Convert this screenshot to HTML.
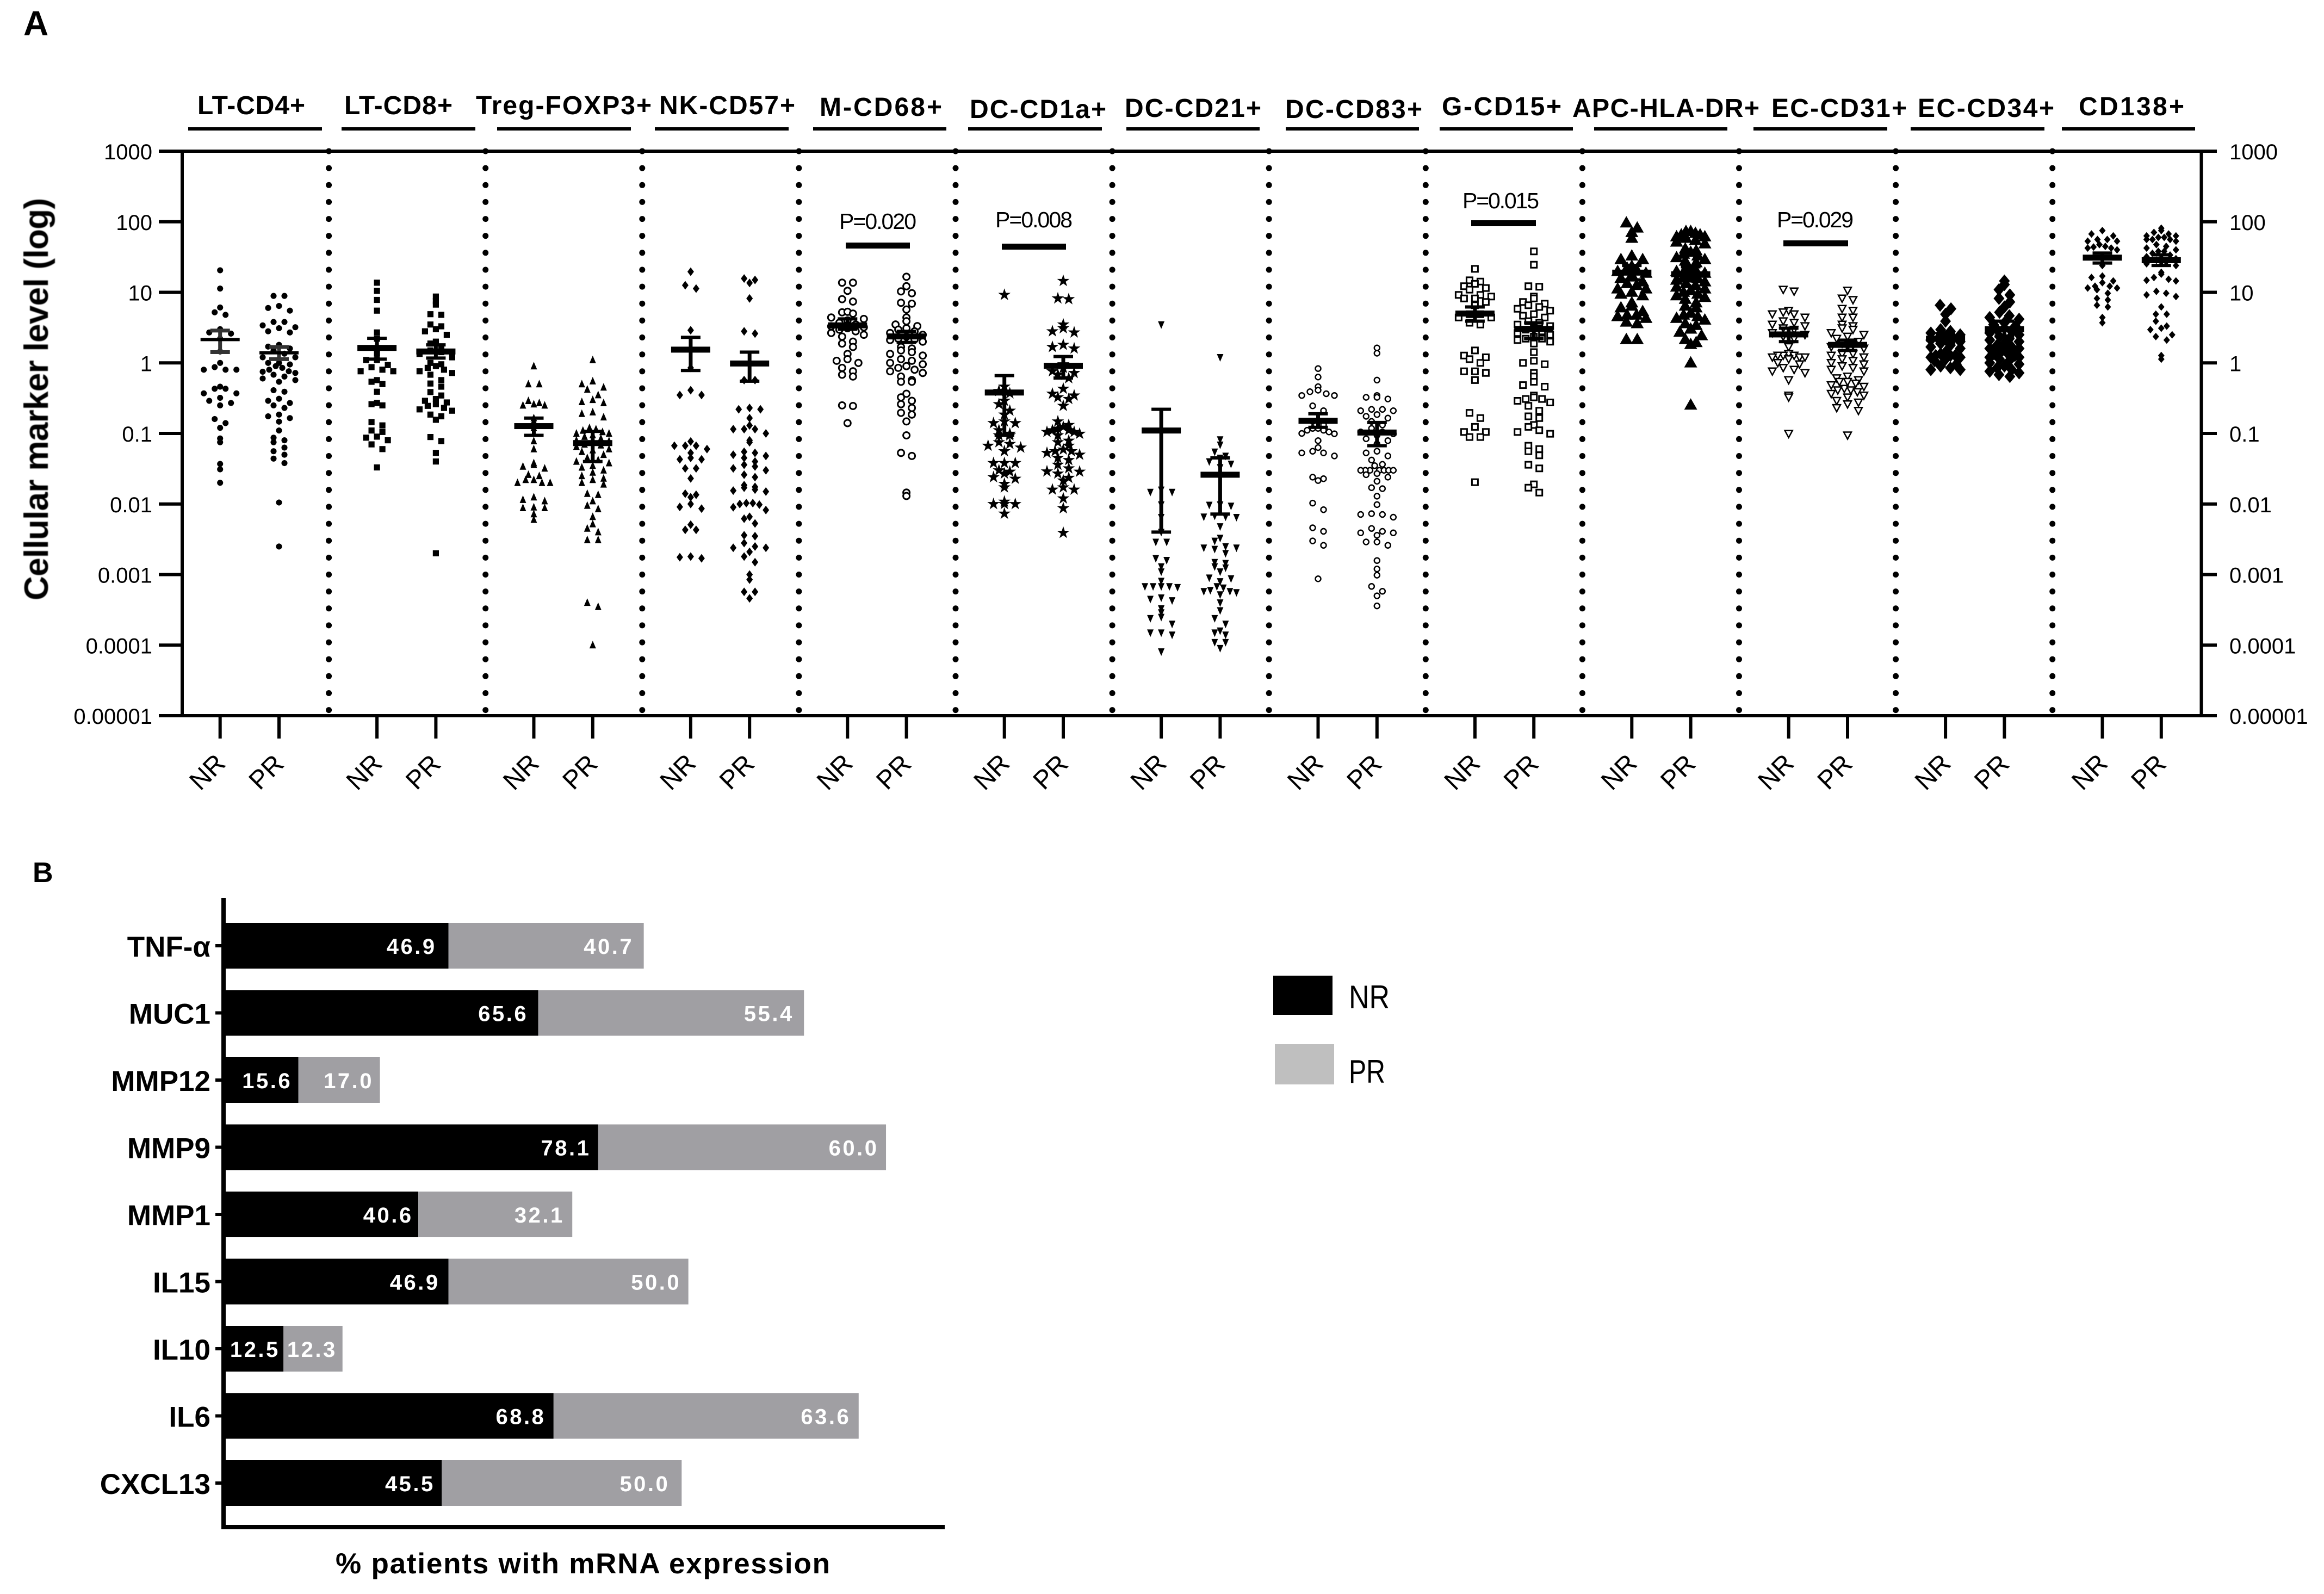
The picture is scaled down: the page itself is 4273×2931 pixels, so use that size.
<!DOCTYPE html>
<html lang="en">
<head>
<meta charset="utf-8">
<title>Cellular marker levels and mRNA expression in NR and PR patients</title>
<style>
html,body{margin:0;padding:0;background:#fff}
svg{display:block}
text{font-family:"Liberation Sans",sans-serif;fill:#000}
.head{font-weight:700;font-size:48px}
.pval{font-size:41px}
</style>
</head>
<body>
<svg id="figure" xmlns="http://www.w3.org/2000/svg" width="4273" height="2931" viewBox="0 0 4273 2931">
  <rect x="0" y="0" width="4273" height="2931" fill="#fff"/>
  <text x="43" y="65" font-size="64" font-weight="700">A</text>
  <text x="60" y="1622" font-size="52" font-weight="700">B</text>
  <text transform="translate(88 1104) rotate(-90)" font-size="62" font-weight="700" textLength="740" style="filter:blur(.8px)">Cellular marker level (log)</text>

  <g>
    <text class="head" x="363" y="210" textLength="198">LT-CD4+</text>
    <text class="head" x="633" y="210" textLength="199">LT-CD8+</text>
    <text class="head" x="875" y="210" textLength="323">Treg-FOXP3+</text>
    <text class="head" x="1212" y="210" textLength="250">NK-CD57+</text>
    <text class="head" x="1507" y="213" textLength="225">M-CD68+</text>
    <text class="head" x="1783" y="217" textLength="251">DC-CD1a+</text>
    <text class="head" x="2068" y="215" textLength="251">DC-CD21+</text>
    <text class="head" x="2363" y="217" textLength="252">DC-CD83+</text>
    <text class="head" x="2651" y="212" textLength="220">G-CD15+</text>
    <text class="head" x="2891" y="215" textLength="344">APC-HLA-DR+</text>
    <text class="head" x="3257" y="215" textLength="249">EC-CD31+</text>
    <text class="head" x="3526" y="215" textLength="251">EC-CD34+</text>
    <text class="head" x="3822" y="212" textLength="194">CD138+</text>
  </g>

  <g stroke="#000" stroke-width="6">
    <line x1="346" x2="592" y1="237" y2="237"/>
    <line x1="628" x2="874" y1="237" y2="237"/>
    <line x1="914" x2="1160" y1="237" y2="237"/>
    <line x1="1204" x2="1450" y1="237" y2="237"/>
    <line x1="1495" x2="1740" y1="237" y2="237"/>
    <line x1="1780" x2="2026" y1="237" y2="237"/>
    <line x1="2071" x2="2316" y1="237" y2="237"/>
    <line x1="2364" x2="2609" y1="237" y2="237"/>
    <line x1="2647" x2="2892" y1="237" y2="237"/>
    <line x1="2931" x2="3176" y1="237" y2="237"/>
    <line x1="3224" x2="3470" y1="237" y2="237"/>
    <line x1="3513" x2="3759" y1="237" y2="237"/>
    <line x1="3791" x2="4036" y1="237" y2="237"/>
  </g>

  <g>
    <text class="pval" x="1543" y="421" textLength="142">P=0.020</text>
    <rect x="1555" y="446" width="118" height="11"/>
    <text class="pval" x="1830" y="418" textLength="142">P=0.008</text>
    <rect x="1842" y="448" width="118" height="11"/>
    <text class="pval" x="2689" y="383" textLength="141">P=0.015</text>
    <rect x="2705" y="405" width="119" height="11"/>
    <text class="pval" x="3267" y="418" textLength="141">P=0.029</text>
    <rect x="3279" y="442" width="119" height="11"/>
  </g>

  <g id="panelA"></g>
  <g id="panelB"></g>

  <text x="617" y="2893" font-size="53" font-weight="700" textLength="909">% patients with mRNA expression</text>

  <g>
    <rect x="2341" y="1794" width="109" height="72" fill="#000"/>
    <text x="2480" y="1854" font-size="60" textLength="75" lengthAdjust="spacingAndGlyphs">NR</text>
    <rect x="2344" y="1920" width="109" height="74" fill="#bfbfbf"/>
    <text x="2480" y="1991" font-size="60" textLength="67" lengthAdjust="spacingAndGlyphs">PR</text>
  </g>
</svg>

<script>
/* ---------- Panel A data ---------- */
const yTickValues = [1000, 100, 10, 1, 0.1, 0.01, 0.001, 0.0001, 0.00001];
const yTickLabels = ["1000", "100", "10", "1", "0.1", "0.01", "0.001", "0.0001", "0.00001"];
const groupLabels = ["NR", "PR"];
const markerNames = ["lt-cd4", "lt-cd8", "treg-foxp3", "nk-cd57", "m-cd68", "dc-cd1a", "dc-cd21", "dc-cd83", "g-cd15", "apc-hla-dr", "ec-cd31", "ec-cd34", "cd138"];
const markerShapes = ["circle", "square", "triangle", "diamond", "openCircle", "star", "invTriangle", "smallOpenCircle", "openSquare", "bigTriangle", "openInvTriangle", "bigDiamond", "smallDiamond"];

const ltCd4Nr = [20.5,11.3,6.1,5.2,4.8,3,2.7,2.6,2.2,1.45,1,.87,.8,.8,.8,.46,.43,.43,.37,.37,.32,.29,.27,.25,.16,.14,.12,.085,.075,.037,.031,.02];
const ltCd4Pr = [8.9,8.9,6.4,6,5.5,3.8,3.8,3.4,3.2,3.1,2.8,2.7,1.8,1.7,1.6,1.5,1.35,1.2,1.2,1,1,.95,.9,.85,.8,.76,.75,.72,.68,.64,.6,.57,.54,.41,.39,.31,.29,.27,.25,.23,.185,.175,.165,.147,.11,.087,.08,.075,.063,.056,.05,.044,.038,.0105,.0025];
const ltCd8Nr = [13.7,10.5,7.8,5.5,2.7,2.2,1.6,1.35,1.1,1.1,.93,.87,.8,.76,.76,.57,.54,.5,.39,.27,.26,.25,.145,.13,.11,.105,.09,.087,.08,.07,.06,.033];
const ltCd8Pr = [8.7,7.5,6.7,4.9,4.8,3.5,3.3,3,2.8,2.5,2,1.88,1.68,1.5,1.42,1.34,1.2,1,.955,.9,.85,.8,.76,.72,.68,.57,.51,.46,.386,.345,.308,.29,.275,.26,.246,.23,.219,.21,.185,.175,.156,.089,.078,.053,.04,.002];
const tregNr = [.9,.5,.5,.29,.27,.26,.25,.25,.165,.15,.12,.078,.06,.038,.036,.032,.034,.026,.025,.022,.02,.02,.02,.022,.0125,.0115,.011,.0088,.009,.0088,.0072,.006];
const tregPr = [1.1,.55,.5,.45,.42,.35,.3,.28,.27,.2,.19,.17,.12,.115,.11,.105,.1,.1,.095,.09,.085,.08,.078,.075,.07,.068,.065,.06,.058,.055,.05,.045,.042,.04,.038,.035,.033,.03,.028,.025,.023,.022,.02,.019,.014,.0135,.011,.0095,.0085,.0066,.0052,.0045,.004,.0031,.0031,.0004,.00035,.0001];
const nkNr = [19.6,12.6,11.3,2.9,1.6,.85,.41,.35,.35,.077,.067,.067,.067,.06,.053,.045,.043,.043,.032,.032,.023,.0135,.0125,.014,.01,.0091,.0086,.0051,.0043,.0043,.00176,.0018,.0017];
const nkPr = [15.7,13.6,15,8.2,2.8,2.6,1,.57,.57,.23,.22,.22,.165,.13,.115,.115,.115,.1,.08,.075,.055,.05,.048,.053,.045,.04,.036,.034,.032,.03,.026,.024,.017,.0175,.016,.0185,.0155,.015,.0103,.0098,.0103,.01,.009,.0082,.0066,.0062,.0053,.0035,.0036,.0028,.0024,.0024,.0025,.0021,.0018,.0015,.001,.00085,.00057,.00057,.00046];
const mCd68Nr = [13.7,13.7,10.5,8,7.4,5.2,5.3,5,4.4,4.2,4,3.7,3.5,3.3,3.2,3.1,2.96,2.8,2.65,2.5,2.36,2,1.88,1.68,1.34,1.13,1.07,1,.85,.76,.68,.64,.25,.245,.14];
const mCd68Pr = [16.6,12.2,10.3,9.7,7.1,6.9,5.7,4.4,3.9,3.5,3.32,3.1,2.96,2.8,2.65,2.5,2.36,2.2,2.15,2.11,2,1.68,1.6,1.5,1.42,1.34,1.27,1.13,1.07,1,.955,.9,.85,.8,.76,.72,.64,.57,.54,.54,.365,.325,.29,.26,.23,.196,.185,.148,.094,.053,.048,.0145,.013];
const dcCd1aNr = [9.2,.46,.4,.37,.29,.26,.21,.185,.148,.14,.14,.111,.099,.094,.094,.075,.071,.067,.063,.056,.038,.038,.038,.03,.0287,.027,.024,.0228,.0193,.0172,.0108,.01,.01,.01,.0073];
const dcCd1aPr = [14.5,8.2,8,3.5,3.1,2.8,2.7,1.8,1.68,1.6,.955,.85,.76,.72,.68,.607,.43,.365,.345,.325,.308,.246,.148,.132,.124,.117,.111,.111,.105,.105,.099,.094,.079,.075,.067,.059,.056,.056,.053,.05,.045,.042,.036,.032,.029,.0287,.027,.0235,.0215,.0172,.016,.016,.012,.0087,.0039];
const dcCd21Nr = [3.5,.0159,.0148,.0148,.0098,.0065,.004,.0029,.0029,.0017,.0016,.0013,.0011,.00081,.00068,.00068,.00068,.00068,.00066,.00047,.00045,.00043,.00033,.00029,.00024,.00025,.0002,.00015,.00015,.00014,.000081];
const dcCd21Pr = [1.2,.082,.069,.055,.048,.045,.04,.037,.033,.0098,.0097,.0094,.0068,.0066,.0066,.0065,.0048,.0033,.003,.0025,.0024,.0023,.0024,.002,.0015,.00145,.0013,.00125,.0011,.0009,.00088,.0008,.00068,.00065,.0006,.00058,.00058,.00056,.00052,.0004,.00031,.00024,.0002,.00016,.00015,.00014,.00011,.00011,.0000905];
const dcCd83Nr = [.83,.63,.46,.41,.39,.365,.345,.345,.246,.21,.148,.132,.118,.118,.111,.111,.105,.1,.099,.079,.063,.056,.053,.053,.048,.024,.0228,.0215,.0103,.0083,.0046,.0041,.003,.0026,.00087];
const dcCd83Pr = [1.63,1.37,.57,.345,.325,.325,.308,.219,.219,.21,.21,.185,.175,.165,.148,.132,.118,.105,.105,.099,.094,.084,.079,.071,.056,.053,.048,.042,.0365,.035,.03,.03,.03,.03,.03,.03,.03,.027,.026,.024,.021,.017,.0165,.0129,.0098,.0073,.0071,.0071,.0065,.0045,.0041,.0039,.0039,.0036,.0029,.0029,.0026,.00158,.0012,.00098,.00068,.00058,.0005,.00036];
const gCd15Nr = [21.5,14.8,14.2,13.2,12.2,11.5,10.9,9.2,9.2,8.7,8.2,8.2,7.3,6.55,4.9,4.9,4.4,4.4,3.7,3.5,1.5,1.27,1.2,1.13,1,.76,.76,.72,.57,.196,.165,.124,.105,.105,.089,.089,.0204];
const gCd15Pr = [38,24.6,12.2,12,8.7,8.2,7.3,6.9,6.55,6.2,5.85,5.5,4.9,4.66,4.4,3.9,3.7,3.5,3.32,3.1,2.96,2.8,2.65,2.5,2.36,2.2,2.2,2.11,2,1.88,1.42,1.07,1,.955,.72,.64,.54,.484,.46,.345,.325,.308,.308,.29,.275,.246,.21,.175,.165,.132,.124,.111,.105,.099,.067,.06,.056,.049,.036,.032,.019,.017,.0145];
const apcHlaDrNr = [99,84,72.5,60,33.7,30,30,24,22.7,21.5,20.3,19.2,18.1,16.2,14.5,13.7,12.9,11.5,11.5,10.3,9.7,9.2,7.3,6.55,6.2,5.5,4.9,4.9,4.66,4.4,3.9,3.7,2.2,2.2];
const apcHlaDrPr = [75,75,70.6,67,67,63,63,60,56,53,50,42.4,40,38,35.7,33.7,31.9,30,28.5,27,22.7,21.5,20.3,19.2,18.1,17,16.2,15.3,14.5,13.7,12.9,12.2,11.5,10.9,10.3,9.7,9.2,8.7,8.2,7.3,6.55,6.2,5.2,4.9,4.66,4.4,4.16,3.7,3.5,3.1,2.8,2.5,2.2,2,1.88,1.03,.26];
const ecCd31Nr = [10.9,10.3,5.5,5.2,4.9,4.9,4.4,3.9,3.7,3.5,3.32,3.1,2.96,2.65,2.5,2.36,2.2,1.68,1.34,1.27,1.27,1.27,1.2,1.2,1.2,1.13,1,.955,.85,.8,.76,.72,.57,.345,.325,.099];
const ecCd31Pr = [10.6,8.2,7.8,5.85,5.5,4.4,4.4,3.5,3.32,3.1,2.96,2.65,2.5,2.36,2.2,2,1.88,1.78,1.68,1.6,1.34,1.34,1.27,1.2,1.13,1.07,1,.955,.9,.85,.8,.76,.64,.607,.57,.54,.54,.51,.484,.46,.43,.41,.41,.386,.365,.345,.325,.29,.275,.26,.23,.21,.094];
const ecCd34Nr = [6.55,5.85,4.9,3.9,2.96,2.8,2.65,2.5,2.36,2.2,2.2,2.11,2,1.88,1.78,1.68,1.6,1.42,1.34,1.27,1.27,1.27,1.2,1.2,1.13,1.07,.955,.9,.85,.8,.8];
const ecCd34Pr = [14.5,12.9,10.9,9.2,8.2,7.3,6.2,5.2,4.66,4.4,4.16,3.7,3.5,3.32,3.1,2.96,2.8,2.65,2.5,2.36,2.2,2.11,2,1.88,1.78,1.68,1.6,1.6,1.5,1.42,1.42,1.34,1.34,1.27,1.2,1.2,1.13,1.07,1,.955,.9,.85,.8,.76,.72,.68,.64];
const cd138Nr = [75,67,63,56,56,53,53,47.5,44.8,43.8,42.4,42.4,40,30,24,17,16.2,14.5,13.7,12.2,12.2,11.5,11.5,10.9,9.7,8.2,7.8,6.55,6.2,4.4,3.7];
const cd138Pr = [81,75,70.6,67,63,63,60,60,56,56,56,53,47.5,44.8,42.4,40,38,38,35.7,33.7,31.9,30,28.5,27,25.4,24,19.2,18.1,16.2,15.3,14.8,14.5,10.3,9.7,9.2,8.7,6.2,4.9,4.9,3.9,3.32,3.1,2.96,2.5,2.36,2.11,1.27,1.13];

const nrSeries = [ltCd4Nr, ltCd8Nr, tregNr, nkNr, mCd68Nr, dcCd1aNr, dcCd21Nr, dcCd83Nr, gCd15Nr, apcHlaDrNr, ecCd31Nr, ecCd34Nr, cd138Nr];
const prSeries = [ltCd4Pr, ltCd8Pr, tregPr, nkPr, mCd68Pr, dcCd1aPr, dcCd21Pr, dcCd83Pr, gCd15Pr, apcHlaDrPr, ecCd31Pr, ecCd34Pr, cd138Pr];

const nrMeans = [2.14,1.63,.127,1.54,3.4,.38,.11,.151,5,19,2.53,2.2,31];
const nrUpper = [2.87,2.23,.165,2.3,4.2,.66,.22,.19,6.2,24,3.1,2.6,36];
const nrLower = [1.42,1.13,.094,.78,3,.094,.004,.122,3.9,15,2,1.9,26];
const prMeans = [1.39,1.45,.073,.98,2.37,.91,.026,.103,3.03,18,1.8,3,28.5];
const prUpper = [1.68,1.8,.107,1.42,2.8,1.23,.045,.143,3.7,23,2.1,3.9,34];
const prLower = [1.13,1.17,.04,.55,1.95,.61,.0072,.067,2.2,14.5,1.5,2.4,24];

/* ---------- Panel B data ---------- */
const barCategories = ["TNF-α", "MUC1", "MMP12", "MMP9", "MMP1", "IL15", "IL10", "IL6", "CXCL13"];
const barNr = [46.9, 65.6, 15.6, 78.1, 40.6, 46.9, 12.5, 68.8, 45.5];
const barPr = [40.7, 55.4, 17.0, 60.0, 32.1, 50.0, 12.3, 63.6, 50.0];
/* label insets from the bar end, as placed by hand in the original */
const nrLabelInset = [22, 18.5, 11.5, 13.5, 9.5, 16, 6.5, 14.5, 12.5];
const prLabelInset = [18.5, 18.5, 11.5, 13.5, 14.5, 13.5, 10, 14.5, 22];

/* ---------- Helpers and scales ---------- */
const SVGNS = "http://www.w3.org/2000/svg";
function make(parent, tag, attrs, text) {
  const el = document.createElementNS(SVGNS, tag);
  for (const k in attrs) el.setAttribute(k, attrs[k]);
  if (text !== undefined) el.textContent = text;
  parent.appendChild(el);
  return el;
}
const yOf = v => 278 + (3 - Math.log10(v)) * 129.75;
const nrX = i => 404.7 + 288.4 * i;
const prX = i => nrX(i) + 108.3;
const dividerX = i => 604.6 + 288.1 * i;
const barX = v => 411 + v * 8.82;
const barCenter = i => 1739 + 123.5 * i;

function polygon(n, rx, ry, rot) {
  const p = [];
  for (let k = 0; k < n; k++) {
    const a = rot + k * 2 * Math.PI / n;
    p.push((rx * Math.cos(a)).toFixed(1) + "," + (ry * Math.sin(a)).toFixed(1));
  }
  return "M" + p.join("L") + "Z";
}
function starPath(r, inner) {
  const p = [];
  for (let k = 0; k < 10; k++) {
    const a = -Math.PI / 2 + k * Math.PI / 5;
    const rr = k % 2 ? inner : r;
    p.push((rr * Math.cos(a)).toFixed(1) + "," + (rr * Math.sin(a)).toFixed(1));
  }
  return "M" + p.join("L") + "Z";
}
const shapeDefs = {
  circle:          {hw: 30, d: polygon(20, 5.6, 5.6, 0), fill: "#000"},
  square:          {hw: 30, d: "M-5.6,-5.6H5.6V5.6H-5.6Z", fill: "#000"},
  triangle:        {hw: 30, d: "M0,-8L6,6H-6Z", fill: "#000"},
  diamond:         {hw: 30, d: "M0,-8L6,0L0,8L-6,0Z", fill: "#000"},
  openCircle:      {hw: 30, d: polygon(20, 6, 6, 0), fill: "#fff", stroke: 3},
  star:            {hw: 30, d: starPath(12, 4.6), fill: "#000"},
  invTriangle:     {hw: 30, d: "M0,8L6,-6H-6Z", fill: "#000"},
  smallOpenCircle: {hw: 30, d: polygon(20, 5, 5, 0), fill: "#fff", stroke: 2.5},
  openSquare:      {hw: 30, d: "M-5.5,-5.5H5.5V5.5H-5.5Z", fill: "#fff", stroke: 3},
  bigTriangle:     {hw: 26, d: "M0,-11L12,10H-12Z", fill: "#000"},
  openInvTriangle: {hw: 30, d: "M0,7L7,-6H-7Z", fill: "#fff", stroke: 2.5},
  bigDiamond:      {hw: 27, d: "M0,-12L10,0L0,12L-10,0Z", fill: "#000"},
  smallDiamond:    {hw: 27, d: "M0,-7L6,0L0,7L-6,0Z", fill: "#000"}
};

/* Prism-style binned swarm: offsets derive only from the values */
function swarm(values, hw) {
  const BIN = 14;
  const bins = {};
  values.forEach((v, i) => {
    const b = Math.floor(yOf(v) / BIN);
    (bins[b] = bins[b] || []).push(i);
  });
  const out = new Array(values.length).fill(0);
  Object.keys(bins).forEach(b => {
    const idx = bins[b].sort((p, q) => values[q] - values[p]);
    const n = idx.length;
    if (n < 2) return;
    const s = Math.min(2 * hw / (n - 1), 20);
    const slots = [];
    for (let k = 0; k < n; k++) slots.push((k - (n - 1) / 2) * s);
    slots.sort((p, q) => Math.abs(p) - Math.abs(q) || p - q);
    idx.forEach((id, k) => { out[id] = slots[k]; });
  });
  return out;
}

/* ---------- Draw panel A ---------- */
const A = document.getElementById("panelA");

for (let i = 0; i < 12; i++) {
  const divider = make(A, "g", {fill: "#000"});
  
  
  for (let k = 0; k <= 33; k++) {
    make(divider, "circle", {cx: dividerX(i).toFixed(1), cy: (278 + k * 31.14).toFixed(1), r: 5.5});
  }
}

function drawAxisLine(x1, y1, x2, y2, name) {
  const l = make(A, "line", {x1: x1, y1: y1, x2: x2, y2: y2, stroke: "#000", "stroke-width": 6});
  
  
}
drawAxisLine(292, 278, 4076, 278, "top-axis-line");
drawAxisLine(292, 1316, 4076, 1316, "bottom-axis-line");
drawAxisLine(335, 278, 335, 1316, "left-y-axis");
drawAxisLine(4047.5, 278, 4047.5, 1316, "right-y-axis");

yTickValues.forEach((v, i) => {
  drawAxisLine(292, yOf(v), 335, yOf(v), "left-y-tick");
  drawAxisLine(4047.5, yOf(v), 4076, yOf(v), "right-y-tick");
  const lt = make(A, "text", {x: 280, y: yOf(v) + 15, "font-size": 40, "text-anchor": "end"}, yTickLabels[i]);
  
  
  const rt = make(A, "text", {x: 4099, y: yOf(v) + 15, "font-size": 40}, yTickLabels[i]);
  
  
});

function drawColumn(i, x, values, mean, up, low, group) {
  const def = shapeDefs[markerShapes[i]];
  const g = make(A, "g", {});
  
  
  const offs = swarm(values, def.hw);
  values.forEach((v, k) => {
    const m = make(g, "path", {
      d: def.d,
      transform: "translate(" + (x + offs[k]).toFixed(1) + " " + yOf(v).toFixed(1) + ")",
      fill: def.fill,
      stroke: def.stroke ? "#000" : "none",
      "stroke-width": def.stroke || 0
    });
    
    
  });
  const thin = i === 0;
  const meanThick = thin ? 6 : 11;
  const capFill = thin ? "#333" : "#000";
  const capThick = thin ? 7 : 6;
  const eb = make(g, "g", {fill: capFill});
  
  
  make(eb, "rect", {x: x - 3.5, y: yOf(up), width: 7, height: yOf(low) - yOf(up)});
  make(eb, "rect", {x: x - 18, y: yOf(up) - capThick / 2, width: 36, height: capThick});
  make(eb, "rect", {x: x - 18, y: yOf(low) - capThick / 2, width: 36, height: capThick});
  make(eb, "rect", {x: x - 36, y: yOf(mean) - meanThick / 2, width: 72, height: meanThick, fill: "#000"});
}

function drawXTick(x, label) {
  drawAxisLine(x, 1316, x, 1358, "x-tick");
  const t = make(A, "text", {
    x: 0, y: 0, "font-size": 48, "text-anchor": "middle",
    transform: "translate(" + (x - 12).toFixed(1) + " 1431) rotate(-45)"
  }, label);
  
  
}

markerNames.forEach((name, i) => {
  drawColumn(i, nrX(i), nrSeries[i], nrMeans[i], nrUpper[i], nrLower[i], "nr");
  drawColumn(i, prX(i), prSeries[i], prMeans[i], prUpper[i], prLower[i], "pr");
  drawXTick(nrX(i), groupLabels[0]);
  drawXTick(prX(i), groupLabels[1]);
});

/* ---------- Draw panel B ---------- */
const B = document.getElementById("panelB");
const BAR_H = 84;
barCategories.forEach((cat, i) => {
  const cy = barCenter(i);
  const nrRect = make(B, "rect", {x: 411, y: cy - BAR_H / 2, width: barX(barNr[i]) - 411, height: BAR_H, fill: "#000"});
  
  
  const prRect = make(B, "rect", {x: barX(barNr[i]), y: cy - BAR_H / 2, width: barX(barPr[i]) - 411, height: BAR_H, fill: "#a09fa3"});
  
  

  const nrLabel = make(B, "text", {x: barX(barNr[i]) - nrLabelInset[i], y: cy + 15, "font-size": 40, "font-weight": 700, "text-anchor": "end", "letter-spacing": 3.5, style: "fill:#fff"}, barNr[i].toFixed(1));
  
  
  const prLabel = make(B, "text", {x: barX(barNr[i]) + barX(barPr[i]) - 411 - prLabelInset[i], y: cy + 15, "font-size": 40, "font-weight": 700, "text-anchor": "end", "letter-spacing": 3.5, style: "fill:#fff"}, barPr[i].toFixed(1));
  
  

  const tick = make(B, "line", {x1: 396, x2: 411, y1: cy, y2: cy, stroke: "#000", "stroke-width": 6});
  
  
  const catLabel = make(B, "text", {x: 387, y: cy + 20, "font-size": 53, "font-weight": 700, "text-anchor": "end"}, cat);
  
  
});
const barYAxis = make(B, "line", {x1: 411, x2: 411, y1: 1651, y2: 2812, stroke: "#000", "stroke-width": 8});


const barXAxis = make(B, "line", {x1: 407, x2: 1737, y1: 2808, y2: 2808, stroke: "#000", "stroke-width": 8});


</script>
</body>
</html>
